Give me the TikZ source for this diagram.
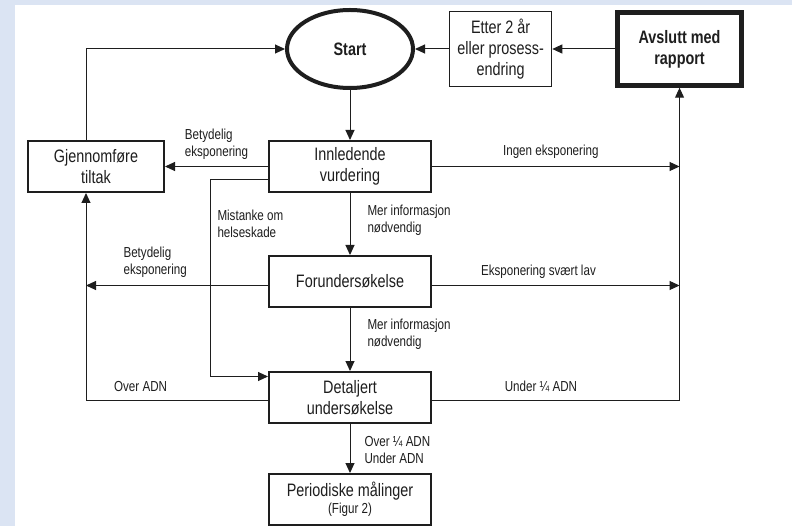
\documentclass[tikz,border=0pt]{standalone}
\usepackage{fontspec}
\setmainfont{Liberation Sans}[FakeStretch=0.8]
\usetikzlibrary{positioning, shapes.geometric, arrows.meta}
\definecolor{framebg}{RGB}{219,228,243}
\definecolor{ink}{RGB}{30,30,30}

\begin{document}
\begin{tikzpicture}[x=1pt, y=-1pt, color=ink, align=center,
    box/.style={draw, line width=2pt, minimum width=162pt, minimum height=51pt, font=\fontsize{18}{21}\selectfont},
    lbl/.style={font=\fontsize{14.5}{17}\selectfont, align=left, inner sep=2pt},
    flow/.style={line width=1pt, -{Triangle[length=10pt, width=9pt]}}]
    \fill[framebg] (0,0) rectangle (792,526);
    \fill[white] (15,5) rectangle (792,526);
    \useasboundingbox (0,0) rectangle (792,526);

    \node (start)  [ellipse, draw, line width=4pt, minimum width=126pt, minimum height=78pt, font=\fontsize{18}{21}\selectfont\bfseries] at (350,49) {Start};
    \node (etter)  [box, line width=1.3pt, minimum width=102pt, minimum height=75pt, right=34pt of start] {Etter 2 år\\eller prosess-\\endring};
    \node (avsl)   [box, line width=4.5pt, minimum width=124pt, minimum height=73pt, right=63pt of etter, font=\fontsize{18}{21}\selectfont\bfseries] {Avslutt med\\rapport};
    \node (innl)   [box, below=50pt of start]  {Innledende\\vurdering};
    \node (gjen)   [box, minimum width=136pt, left=103pt of innl] {Gjennomføre\\tiltak};
    \node (forund) [box, below=62pt of innl]   {Forundersøkelse};
    \node (detal)  [box, below=63pt of forund] {Detaljert\\undersøkelse};
    \node (period) [box, below=49pt of detal]  {Periodiske målinger\\[-4pt]{\fontsize{14.5}{17}\selectfont(Figur 2)}};

    \coordinate (lft) at ([xshift=-10pt]gjen.south);
    \coordinate (rgt) at (avsl.south);
    \coordinate (fw)  at ([yshift=-4pt]forund.west);
    \coordinate (fe)  at ([yshift=-4pt]forund.east);
    \coordinate (dw)  at ([yshift=-3pt]detal.west);
    \coordinate (de)  at ([yshift=-3pt]detal.east);

    \draw[flow] (start) -- (innl);
    \draw[flow] (avsl) -- (etter);
    \draw[flow] (etter) -- (start);
    \draw[flow] ([xshift=-10pt]gjen.north) |- (start);

    \draw[flow] (innl) -- node[lbl, above=4pt] {Betydelig\\eksponering} (gjen);
    \draw[flow] (innl) -- node[lbl, above=5pt, pos=0.48] {Ingen eksponering} (innl -| rgt);
    \draw[flow] ([yshift=-13pt]innl.west) -- ++(-58pt,0)
        node[lbl, anchor=north west, xshift=5pt, yshift=-28pt] {Mistanke om\\helseskade}
        |- ([yshift=21pt]detal.west);

    \draw[flow] (innl) -- node[lbl, right, xshift=15pt, yshift=4pt] {Mer informasjon\\nødvendig} (forund);
    \draw[flow] (forund) -- node[lbl, right, xshift=15pt, yshift=5pt] {Mer informasjon\\nødvendig} (detal);
    \draw[flow] (fw) -- node[lbl, above=5pt, pos=0.62] {Betydelig\\eksponering} (fw -| lft);
    \draw[flow] (fe) -- node[lbl, above=4pt, pos=0.43] {Eksponering svært lav} (fe -| rgt);

    \draw[flow] (dw) -| node[lbl, above=6pt, pos=0.35] {Over ADN} (lft);
    \draw[flow] (de) -| node[lbl, above=6pt, pos=0.22] {Under ¼ ADN} (rgt);
    \draw[flow] (detal) -- node[lbl, right, xshift=12pt, yshift=-2pt] {Over ¼ ADN\\Under ADN} (period);
\end{tikzpicture}
\end{document}
